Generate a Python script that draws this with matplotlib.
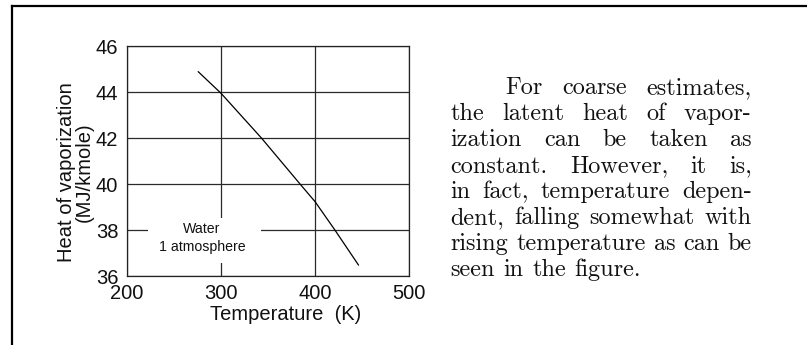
import matplotlib
matplotlib.use("Agg")
import matplotlib.pyplot as plt
from matplotlib.lines import Line2D
from matplotlib.patches import Rectangle

# curve
temp_k = [276, 300, 343, 384, 400, 421, 446]
heat_mj = [44.88, 43.95, 42.0, 40.0, 39.23, 38.0, 36.48]

x_ticks = [200, 300, 400, 500]
y_ticks = [36, 38, 40, 42, 44, 46]

paragraph = [
    "For coarse estimates,",
    "the latent heat of vapor-",
    "ization can be taken as",
    "constant. However, it is,",
    "in fact, temperature depen-",
    "dent, falling somewhat with",
    "rising temperature as can be",
    "seen in the figure.",
]

W, H = 807, 345
SANS = "Liberation Sans"
INK = "#111111"
BODY = 17.5

fig = plt.figure(figsize=(W / 100, H / 100), dpi=100)
fig.patch.set_facecolor("white")

# page frame (top rule + left rule)
fig.add_artist(Line2D([12 / W, 1.0], [1 - 6 / H, 1 - 6 / H], color="black", lw=1.6))
fig.add_artist(Line2D([12 / W, 12 / W], [1 - 6 / H, 0.0], color="black", lw=1.6))

ax = fig.add_axes([126.7 / W, 1 - 276 / H, 282.6 / W, 230 / H])
ax.plot(temp_k, heat_mj, color="black", lw=0.9, zorder=4)
ax.set_xlim(200, 500)
ax.set_ylim(36, 46)
ax.set_xticks(x_ticks)
ax.set_yticks(y_ticks)
ax.tick_params(length=0, labelsize=14.5, pad=6, colors=INK)
for lab in ax.get_xticklabels() + ax.get_yticklabels():
    lab.set_family(SANS)
ax.grid(True, color="#2a2a2a", lw=0.9, zorder=1)
ax.set_axisbelow(True)
for s in ax.spines.values():
    s.set_linewidth(0.9)
    s.set_color("#222222")

# label box over the gridlines
ax.add_patch(Rectangle((222.6, 36.57), 120, 1.95, facecolor="white",
                       edgecolor="none", zorder=2))
ax.text(280, 38.04, "Water", ha="center", va="center", fontsize=10.2,
        family=SANS, color=INK, zorder=3)
ax.text(280, 37.26, "1 atmosphere", ha="center", va="center", fontsize=10.2,
        family=SANS, color=INK, zorder=3)

fig.text(286 / W, 1 - 315 / H, "Temperature  (K)", ha="center", va="center",
         fontsize=14.5, family=SANS, color=INK)
fig.text(75.5 / W, 1 - 172 / H, "Heat of vaporization\n(MJ/kmole)", ha="center",
         va="center", rotation=90, fontsize=14.5, family=SANS, color=INK,
         multialignment="center", linespacing=0.95)

# justified serif paragraph
fig.canvas.draw()
renderer = fig.canvas.get_renderer()
probe = fig.text(0, 0, "a", fontsize=BODY, family="cmr10")
natural_space = probe.get_window_extent(renderer).width * 0.7
probe.remove()

left, right = 450.7, 751.7
indent = 505
line_y = [88, 114, 140, 166.5, 192, 218, 244, 270]
for i, line in enumerate(paragraph):
    words = line.split(" ")
    x0 = indent if i == 0 else left
    objs = [fig.text(0, 0, w, fontsize=BODY, family="cmr10", color=INK,
                     va="center", ha="left") for w in words]
    widths = [o.get_window_extent(renderer).width for o in objs]
    if i == len(paragraph) - 1:
        space = natural_space
    else:
        space = (right - x0 - sum(widths)) / (len(words) - 1)
    x = x0
    for o, w in zip(objs, widths):
        o.set_position((x / W, 1 - line_y[i] / H))
        x += w + space

fig.savefig("out.png", dpi=100)
